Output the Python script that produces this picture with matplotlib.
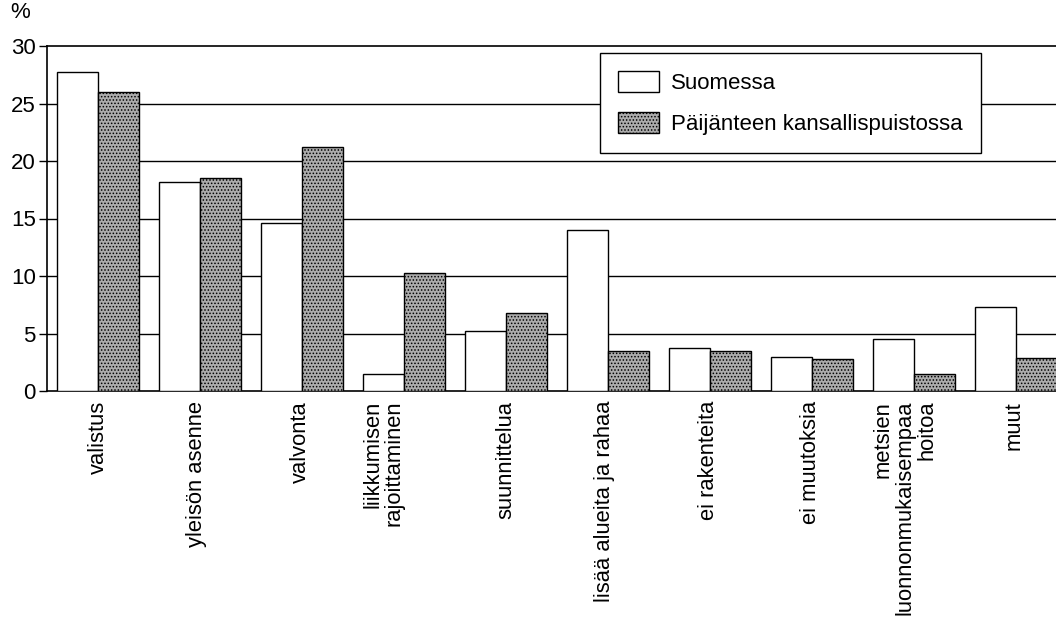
import numpy as np
import matplotlib
matplotlib.use('Agg')
import matplotlib.pyplot as plt

plt.rcParams['font.family'] = ['Liberation Sans', 'DejaVu Sans']
plt.rcParams['hatch.linewidth'] = 0.7

kategoriat = ['valistus', 'yleisön asenne', 'valvonta',
              'liikkumisen\nrajoittaminen', 'suunnittelua',
              'lisää alueita ja rahaa', 'ei rakenteita', 'ei muutoksia',
              'metsien\nluonnonmukaisempaa\nhoitoa', 'muut']
suomessa = [27.7, 18.2, 14.6, 1.5, 5.2, 14.0, 3.7, 3.0, 4.5, 7.3]
paijanne = [26.0, 18.5, 21.2, 10.3, 6.8, 3.5, 3.5, 2.8, 1.5, 2.9]
yticks = [0, 5, 10, 15, 20, 25, 30]
# pieni siirto monirivisille selitteille
label_dx = [0, -0.03, -0.02, -0.2, 0, -0.04, -0.02, -0.02, -0.09, -0.02]

fig = plt.figure(figsize=(10.56, 6.21), dpi=100)
ax = fig.add_axes([47/1056, 1 - 391/621, 1 - 47/1056, 345/621])

x = np.arange(len(kategoriat))
w = 0.4
ax.bar(x - w/2, suomessa, w, color='white', edgecolor='black', linewidth=1.0,
       label='Suomessa', zorder=3)
ax.bar(x + w/2, paijanne, w, color='#ababab', edgecolor='black', linewidth=1.0,
       hatch='.....', label='Päijänteen kansallispuistossa', zorder=3)

for v in yticks[1:-1]:
    ax.axhline(v, color='black', linewidth=1.0, zorder=1)

ax.set_xlim(-0.5, 9.39)
ax.set_ylim(0, 30)
ax.set_yticks(yticks)
ax.tick_params(axis='y', length=6, width=1, labelsize=16, pad=2)
ax.set_xticks([])
ax.spines['right'].set_visible(False)
for s in ['left', 'top', 'bottom']:
    ax.spines[s].set_linewidth(1.2)

for i, lab in enumerate(kategoriat):
    ax.text(i + label_dx[i], -0.85, lab, rotation=90, ha='center', va='top',
            multialignment='right', fontsize=15.8, linespacing=1.04)

fig.text(10/1056, 1 - 13/621, '%', fontsize=16, ha='left', va='center')

leg = ax.legend(loc='upper left', bbox_to_anchor=((600-47)/1009, 1 - (53-46)/345),
                frameon=True, fancybox=False, edgecolor='black', fontsize=16,
                handlelength=1.85, handleheight=1.1, handletextpad=0.55,
                borderpad=0.8, labelspacing=0.8, borderaxespad=0)
leg.get_frame().set_linewidth(1.0)
leg.get_frame().set_alpha(1)
leg.set_zorder(5)

fig.savefig('out.png', dpi=100)
